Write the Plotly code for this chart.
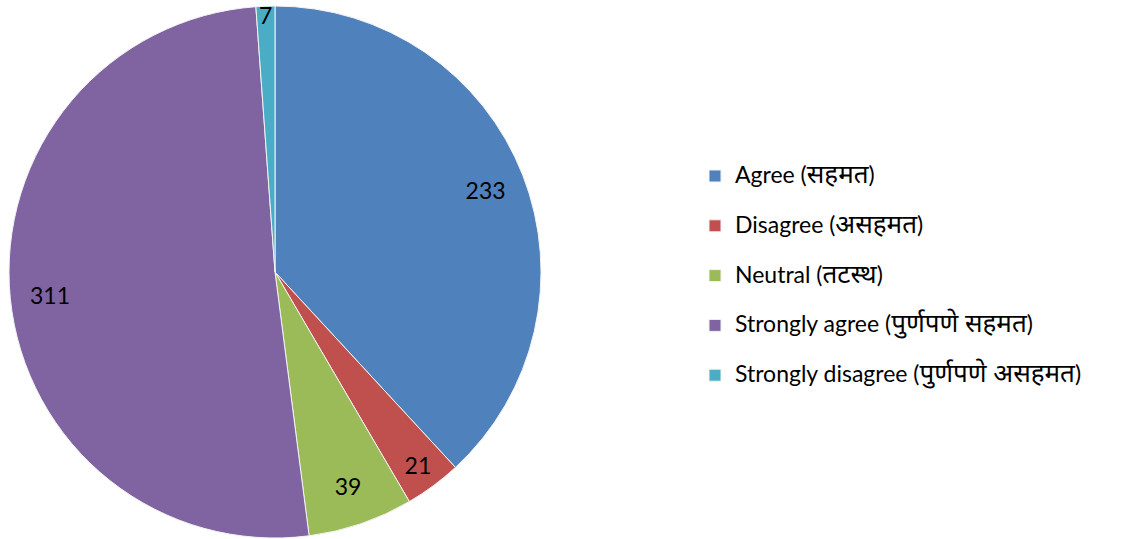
import plotly.graph_objects as go

labels = [
    "Agree (सहमत)",
    "Disagree (असहमत)",
    "Neutral (तटस्थ)",
    "Strongly agree (पुर्णपणे सहमत)",
    "Strongly disagree (पुर्णपणे असहमत)",
]
values = [233, 21, 39, 311, 7]
colors = ["#4F81BD", "#C0504D", "#9BBB59", "#8064A2", "#4BACC6"]

W, H = 1132, 539
pie_domain = dict(x=[9 / W, 541 / W], y=[1 / H, 533 / H])


def legend_text(lab):
    # english part at 23px, devanagari part a bit bigger (fallback font runs small)
    en, mr = lab.split(" (", 1)
    return (f"<span style='font-size:23px'>{en} (</span>"
            f"<span style='font-size:26px'>{mr[:-1]}</span>"
            f"<span style='font-size:23px'>)</span><br> ")


# solid pie, legend entries only (labels drawn by the ring below)
fig = go.Figure(go.Pie(
    labels=[legend_text(lab) for lab in labels],
    values=values,
    sort=False,
    direction="clockwise",
    rotation=0,
    marker=dict(colors=colors, line=dict(color="#f2f2f2", width=1)),
    textinfo="none",
    hoverinfo="label+value+percent",
    domain=pie_domain,
))

# transparent ring on top so the value labels sit near the rim
fig.add_trace(go.Pie(
    labels=labels,
    values=values,
    sort=False,
    direction="clockwise",
    rotation=0,
    hole=0.7,
    marker=dict(colors=["rgba(0,0,0,0)"] * len(values), line=dict(width=0)),
    textinfo="value",
    textposition="inside",
    insidetextorientation="horizontal",
    textfont=dict(size=23, color="black"),
    hoverinfo="skip",
    showlegend=False,
    domain=pie_domain,
))

fig.update_layout(
    width=W,
    height=H,
    margin=dict(l=0, r=0, t=0, b=0),
    paper_bgcolor="white",
    font=dict(family="Lato, 'Noto Sans', sans-serif", color="black"),
    uniformtext=dict(minsize=23, mode="show"),
    showlegend=True,
    legend=dict(
        x=695 / W, y=0.467, xanchor="left", yanchor="middle",
        font=dict(size=18, color="black"),
        valign="top",
    ),
)

fig.write_html("out.html", config={"displayModeBar": False},
               post_script="document.body.style.margin='0';")
